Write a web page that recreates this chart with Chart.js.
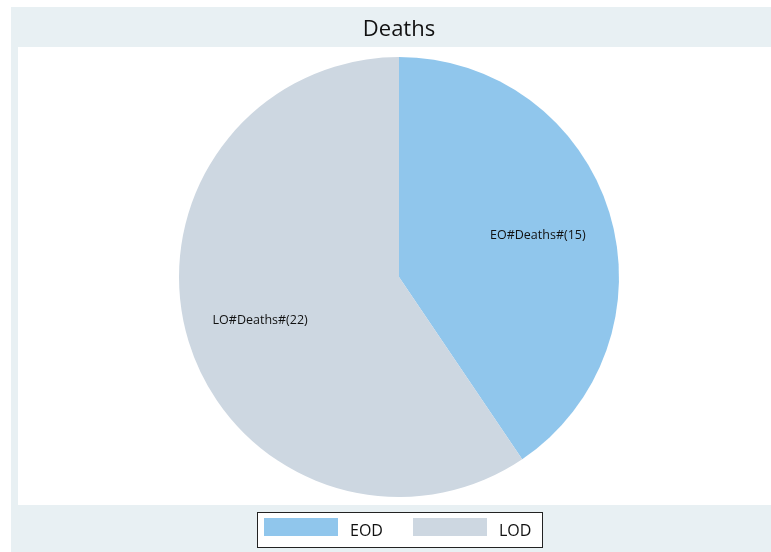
<!DOCTYPE html>
<html>
<head>
<meta charset="utf-8">
<script src="https://cdn.jsdelivr.net/npm/chart.js@4/dist/chart.umd.min.js"></script>
<style>
  html, body { margin: 0; padding: 0; background: #fff; }
  #wrap { width: 771px; height: 552px; position: relative; }
</style>
</head>
<body>
<div id="wrap"><canvas id="deathsChart"></canvas></div>
<script>
// ── Data ─────────────────────────────────────────────
const titleText   = 'Deaths';
const categories  = ['EOD', 'LOD'];
const sliceLabels = ['EO#Deaths#(15)', 'LO#Deaths#(22)'];
const deaths      = [15, 22];
const colors      = ['#90c6ec', '#cdd7e1'];

// ── Frame, title, slice labels and boxed legend ─────
const stataFrame = {
  id: 'stataFrame',
  beforeDraw(chart) {
    const ctx = chart.ctx;
    ctx.save();
    ctx.fillStyle = '#ffffff';
    ctx.fillRect(0, 0, chart.width, chart.height);
    ctx.fillStyle = '#e8f0f3';
    ctx.fillRect(11, 7, chart.width - 11, chart.height - 7);
    ctx.fillStyle = '#ffffff';
    ctx.fillRect(18, 47, chart.width - 18, 458);
    ctx.restore();
  },
  afterDraw(chart) {
    const ctx = chart.ctx;
    ctx.save();
    // title
    ctx.fillStyle = '#111';
    ctx.font = '22px "Open Sans", sans-serif';
    ctx.textAlign = 'center';
    ctx.textBaseline = 'middle';
    ctx.fillText(titleText, 399, 30);

    // slice labels at 2/3 radius along mid angle
    ctx.font = '12.5px "Open Sans", sans-serif';
    chart.getDatasetMeta(0).data.forEach((arc, i) => {
      const mid = (arc.startAngle + arc.endAngle) / 2;
      const r = arc.outerRadius * 0.66;
      ctx.fillText(sliceLabels[i], arc.x + Math.cos(mid) * r, arc.y + Math.sin(mid) * r + 1);
    });

    // legend
    ctx.fillStyle = '#ffffff';
    ctx.fillRect(257.5, 512.5, 285, 35);
    ctx.strokeStyle = '#222';
    ctx.lineWidth = 1;
    ctx.strokeRect(257.5, 512.5, 285, 35);
    ctx.font = '16px "Open Sans", sans-serif';
    ctx.textAlign = 'left';
    categories.forEach((c, i) => {
      const x0 = 264 + i * 149;
      ctx.fillStyle = colors[i];
      ctx.fillRect(x0, 518, 74, 18);
      ctx.fillStyle = '#111';
      ctx.fillText(c, x0 + 86, 531);
    });
    ctx.restore();
  }
};

new Chart(document.getElementById('deathsChart'), {
  type: 'pie',
  data: {
    labels: categories,
    datasets: [{
      data: deaths,
      backgroundColor: colors,
      borderWidth: 0
    }]
  },
  options: {
    responsive: true,
    maintainAspectRatio: false,
    animation: false,
    layout: { padding: { top: 57, bottom: 55, left: 27, right: 0 } },
    plugins: {
      legend: { display: false },
      tooltip: { enabled: false },
      title: { display: false }
    }
  },
  plugins: [stataFrame]
});
</script>
</body>
</html>
